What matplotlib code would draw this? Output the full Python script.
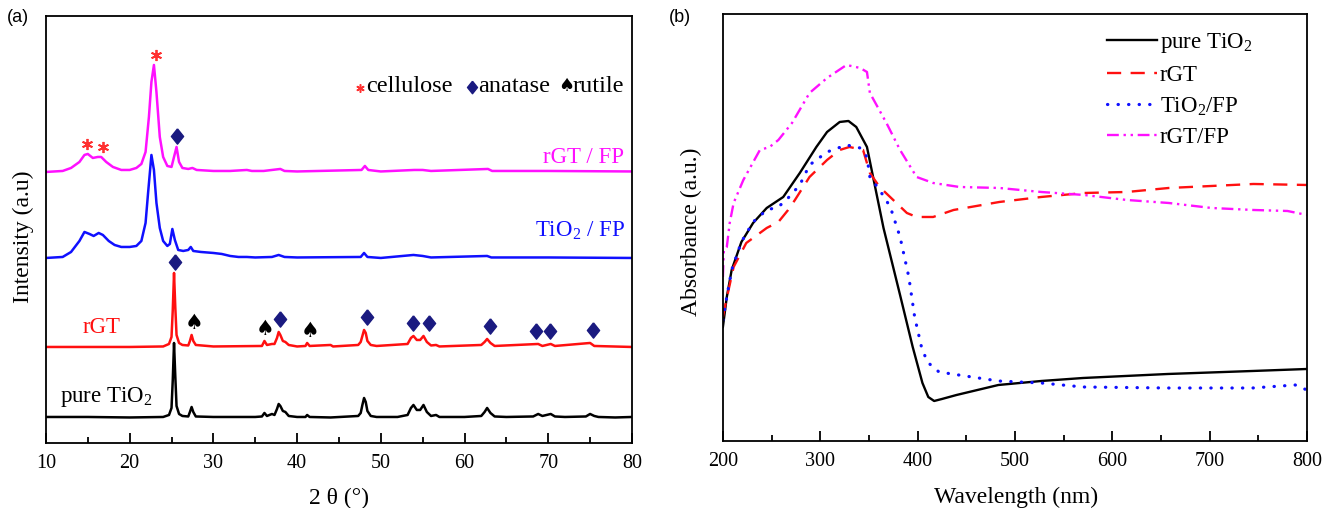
import matplotlib.pyplot as plt
import numpy as np
from matplotlib.path import Path

plt.rcParams['font.family'] = ['Liberation Serif', 'DejaVu Sans']
plt.rcParams['mathtext.fontset'] = 'custom'
plt.rcParams['mathtext.rm'] = 'Liberation Serif'
plt.rcParams['mathtext.it'] = 'Liberation Serif:italic'

# ---- XRD patterns: 2 theta (deg) and intensity above each pattern's baseline ----
tt_pure = [10, 12, 15, 20, 24, 24.7, 25.0, 25.15, 25.3, 25.45, 25.6, 25.9, 26.3, 27.0, 27.2, 27.4,
           27.6, 27.9, 30, 35, 35.8, 36.1, 36.4, 37.0, 37.3, 37.6, 37.8, 38.0, 38.3, 38.6, 39.0,
           40, 41.0, 41.2, 41.5, 44, 47.3, 47.6, 47.8, 48.0, 48.2, 48.4, 48.8, 49.5, 52, 53.2,
           53.6, 53.9, 54.3, 54.7, 55.1, 55.5, 56.0, 56.6, 57.0, 60, 62.0, 62.4, 62.7, 63.1,
           63.6, 65, 68.2, 68.8, 69.3, 70.3, 70.8, 72, 74.5, 75.0, 75.5, 76, 78, 80]
i_pure = [1, 1, 1, 0.5, 1, 3, 10, 38, 75, 42, 12, 4, 2, 1.5, 6, 11,
          6, 1.5, 1, 1, 1.5, 5, 2, 4, 3, 9, 14, 12, 7, 6, 2,
          1, 1, 3, 1, 0.5, 2, 5, 13, 20, 16, 7, 2, 1, 1, 3,
          10, 13, 8, 8, 13, 6, 2, 3, 1, 1, 2, 6, 10, 5,
          1.5, 1, 1.5, 4, 2, 4, 1.5, 1, 1.5, 4, 2, 1, 0.5, 1]

tt_rgt = [10, 20, 24, 24.7, 25.0, 25.15, 25.3, 25.45, 25.6, 25.9, 26.3, 27.0, 27.2, 27.4, 27.6,
          27.9, 30, 35.8, 36.1, 36.4, 37.0, 37.3, 37.6, 37.8, 38.0, 38.3, 38.6, 39.0, 40, 41.0,
          41.2, 41.5, 44.0, 44.3, 47.3, 47.6, 47.8, 48.0, 48.2, 48.4, 48.8, 49.5, 53.2, 53.6,
          53.9, 54.3, 54.7, 55.1, 55.5, 56.0, 56.6, 57.0, 62.0, 62.4, 62.7, 63.1, 63.6, 68.8,
          69.3, 70.3, 70.8, 75.0, 75.5, 80]
i_rgt = [0, 0, 0.5, 3, 10, 37, 74, 40, 12, 4, 2, 1.5, 6, 12, 6,
         2, 0.5, 1, 6, 2, 3, 3, 9, 15, 12, 6, 5, 2, 0.5, 1,
         4, 1, 2, 0.5, 2, 5, 11, 17, 14, 6, 2, 1, 3, 9,
         11, 7, 7, 11, 5, 1.5, 2, 0.5, 2, 5, 8, 4, 1, 3,
         1, 3, 1, 4, 1, 0]

tt_tio2fp = [10, 11, 12, 13, 14, 14.6, 15.2, 15.7, 16.3, 16.8, 17.5, 18.2, 19, 20, 20.8, 21.4,
             21.9, 22.2, 22.6, 22.9, 23.2, 23.6, 24.0, 24.5, 24.8, 25.1, 25.4, 25.8, 26.4, 27.0,
             27.3, 27.6, 28.5, 30, 31, 32, 33, 34, 35, 37.0, 37.8, 38.5, 40, 47.6, 48.0, 48.4, 50,
             53.9, 55.0, 56, 62.7, 63.2, 70, 80]
i_tio2fp = [0, 0.5, 1, 6, 17, 26, 24, 22, 25, 23, 17, 13, 11, 11, 12, 17,
            35, 65, 103, 88, 55, 30, 17, 12, 14, 29, 18, 8, 7, 8,
            11, 7, 6, 5, 4, 2, 1, 1, 0.5, 1, 3, 1, 0.5, 1, 5, 1, 0,
            3, 2, 0.5, 2, 0.5, 0.5, 0]

tt_rgtfp = [10, 11, 12, 13, 14, 14.6, 15.0, 15.6, 16.2, 16.6, 17.2, 18, 19, 20, 20.8, 21.4, 21.9,
            22.3, 22.6, 22.9, 23.2, 23.6, 24.0, 24.5, 25.0, 25.3, 25.6, 25.9, 26.3, 27.0, 27.5, 28,
            30, 32, 34, 34.6, 36, 38.0, 38.5, 40, 47.7, 48.1, 48.5, 50, 54, 55, 56, 62.8, 63.3,
            70, 80]
i_rgtfp = [0, 0.5, 1, 4, 10, 17, 18, 14, 15, 15, 10, 5, 2, 2, 4, 8, 20,
           55, 90, 107, 80, 35, 15, 6, 5, 15, 25, 10, 4, 3, 4, 2,
           1, 1, 2, 1, 1, 3, 1, 0.5, 2, 6, 2, 0.5, 2, 2, 1, 3, 1,
           1, 0.5]

# phase reflections marked on the patterns
anatase_rgt = [25.4, 38.0, 48.3, 53.9, 55.8, 63.0, 68.5, 70.2, 75.4]
rutile_rgt = [27.7, 36.2, 41.5]
cellulose_rgtfp = [14.9, 16.8, 23.1]
anatase_rgtfp = [25.7]

# ---- UV-vis absorbance spectra ----
wl_pure = [200, 204, 209, 219, 231, 245, 262, 279, 296, 307, 320, 329, 337, 348, 365, 382, 395,
           405, 411, 417, 425, 440, 483, 527, 570, 657, 744, 800]
abs_pure = [1.14, 1.44, 1.71, 1.99, 2.18, 2.33, 2.44, 2.68, 2.94, 3.09, 3.19, 3.20, 3.14, 2.94,
            2.13, 1.46, 0.94, 0.58, 0.44, 0.40, 0.42, 0.46, 0.56, 0.60, 0.63, 0.67, 0.70, 0.72]

wl_rgt = [200, 204, 211, 224, 245, 257, 267, 274, 289, 307, 320, 330, 344, 351, 361, 375, 389,
          399, 416, 437, 484, 527, 571, 615, 658, 702, 745, 800]
abs_rgt = [1.24, 1.43, 1.74, 1.98, 2.13, 2.19, 2.31, 2.41, 2.64, 2.81, 2.91, 2.94, 2.91, 2.68,
           2.54, 2.41, 2.28, 2.24, 2.24, 2.31, 2.39, 2.44, 2.48, 2.49, 2.53, 2.55, 2.57, 2.56]

wl_tio2fp = [200, 204, 209, 219, 231, 245, 257, 267, 279, 289, 307, 327, 341, 348, 351, 361, 372,
             382, 391, 397, 404, 410, 422, 449, 483, 527, 570, 657, 744, 788, 800]
abs_tio2fp = [1.21, 1.44, 1.71, 1.99, 2.19, 2.31, 2.34, 2.43, 2.56, 2.76, 2.89, 2.96, 2.93, 2.84,
              2.64, 2.51, 2.34, 2.04, 1.64, 1.24, 0.94, 0.79, 0.69, 0.65, 0.60, 0.58, 0.54, 0.53,
              0.53, 0.56, 0.51]

wl_rgtfp = [200, 201, 204, 207, 211, 221, 238, 248, 257, 271, 289, 307, 327, 341, 348, 351, 368,
            382, 399, 416, 443, 484, 527, 571, 615, 658, 702, 745, 780, 800]
abs_rgtfp = [1.64, 1.91, 1.94, 2.18, 2.38, 2.61, 2.91, 2.94, 3.01, 3.18, 3.48, 3.63, 3.76, 3.73,
             3.69, 3.48, 3.18, 2.91, 2.64, 2.58, 2.54, 2.53, 2.49, 2.46, 2.41, 2.38, 2.33, 2.31,
             2.30, 2.26]

navy = '#1a1a80'
diamond = Path([(0, 1), (0.8, 0), (0, -1), (-0.8, 0), (0, 1)])


def peak_top(tt, ii, pos, win=0.7):
    xs = np.linspace(pos - win, pos + win, 60)
    return np.interp(xs, tt, ii).max()


fig = plt.figure(figsize=(13.24, 5.08), dpi=100)
ax1 = fig.add_axes([0.0347, 0.128, 0.4426, 0.8406])
ax2 = fig.add_axes([0.546, 0.1319, 0.4411, 0.8406])

# ---------- (a) XRD ----------
off = {'pure': 25, 'rgt': 96, 'tio2fp': 185, 'rgtfp': 271}
ax1.plot(tt_pure, np.array(i_pure) + off['pure'], color='black', lw=1.8)
ax1.plot(tt_rgt, np.array(i_rgt) + off['rgt'], color='#ff1010', lw=1.8)
ax1.plot(tt_tio2fp, np.array(i_tio2fp) + off['tio2fp'], color='#1010ff', lw=1.8)
ax1.plot(tt_rgtfp, np.array(i_rgtfp) + off['rgtfp'], color='#ff10ff', lw=1.8)

for p in anatase_rgt:
    y = peak_top(tt_rgt, i_rgt, p) + off['rgt'] + 13
    ax1.plot(p, y, marker=diamond, ms=11, color=navy, ls='none')
for p in rutile_rgt:
    y = peak_top(tt_rgt, i_rgt, p) + off['rgt'] + 12
    ax1.text(p, y, '\u2660', family='DejaVu Sans', fontsize=15, color='black',
             ha='center', va='center')
for p in anatase_rgtfp:
    y = peak_top(tt_rgtfp, i_rgtfp, p) + off['rgtfp'] + 11
    ax1.plot(p, y, marker=diamond, ms=11, color=navy, ls='none')
for p in cellulose_rgtfp:
    y = peak_top(tt_rgtfp, i_rgtfp, p, win=0.4) + off['rgtfp'] + 10
    ax1.plot(p, y, marker=(6, 2, 0), ms=8, mew=1.3, color='#ff3030', ls='none')

# curve names
ax1.text(0.986, 0.656, 'rGT / FP', transform=ax1.transAxes, color='#ff10ff',
         fontsize=16.5, ha='right', va='baseline')
ax1.text(0.988, 0.482, 'TiO$_2$ / FP', transform=ax1.transAxes, color='#1010ff',
         fontsize=16.5, ha='right', va='baseline')
ax1.text(0.0625, 0.258, 'rGT', transform=ax1.transAxes, color='#ff1010',
         fontsize=16.5, ha='left', va='baseline')
ax1.text(0.0244, 0.097, 'pure TiO$_2$', transform=ax1.transAxes, color='black',
         fontsize=16.5, ha='left', va='baseline')

# symbol key
ax1.plot(0.536, 0.832, marker=(6, 2, 0), ms=6, mew=1.1, color='#ff3030',
         transform=ax1.transAxes, ls='none')
ax1.text(0.547, 0.822, 'cellulose', transform=ax1.transAxes, fontsize=17.5, va='baseline')
ax1.plot(0.7265, 0.834, marker=diamond, ms=9, color=navy, transform=ax1.transAxes, ls='none')
ax1.text(0.738, 0.822, 'anatase', transform=ax1.transAxes, fontsize=17.5, va='baseline')
ax1.text(0.8886, 0.836, '\u2660', transform=ax1.transAxes, family='DejaVu Sans',
         fontsize=13, ha='center', va='center')
ax1.text(0.8993, 0.822, 'rutile', transform=ax1.transAxes, fontsize=17.5, va='baseline')

ax1.set_xlim(10, 80)
ax1.set_ylim(0, 427)
ax1.set_xticks(np.arange(10, 81, 10))
ax1.set_xticks(np.arange(15, 80, 10), minor=True)
ax1.set_yticks([])
ax1.set_xlabel('2 \u03b8 (\u00b0)', fontsize=17, va='center')
ax1.xaxis.set_label_coords(0.5, -0.129)
ax1.set_ylabel('Intensity (a.u)', fontsize=17, va='center')
ax1.yaxis.set_label_coords(-0.039, 0.482)

# ---------- (b) UV-vis ----------
ax2.plot(wl_pure, abs_pure, color='black', lw=1.7, label='pure TiO$_2$')
ax2.plot(wl_rgt, abs_rgt, color='#ff1010', lw=1.7, ls=(0, (6, 4)), label='rGT')
ax2.plot(wl_tio2fp, abs_tio2fp, color='#1010ff', lw=2.3, ls=(0, (0.1, 3.2)),
         dash_capstyle='round', label='TiO$_2$/FP')
ax2.plot(wl_rgtfp, abs_rgtfp, color='#ff10ff', lw=1.7, ls=(0, (5, 2, 1, 2, 1, 2)),
         label='rGT/FP')
ax2.legend(loc='upper left', bbox_to_anchor=(0.657, 0.96), frameon=False, fontsize=16.5,
           handlelength=2.2, handletextpad=0.12, labelspacing=0.42, borderpad=0,
           borderaxespad=0)

ax2.set_xlim(200, 800)
ax2.set_ylim(0, 4.27)
ax2.set_xticks(np.arange(200, 801, 100))
ax2.set_xticks(np.arange(250, 800, 100), minor=True)
ax2.set_yticks([])
ax2.set_xlabel('Wavelength (nm)', fontsize=17, va='center')
ax2.xaxis.set_label_coords(0.502, -0.133)
ax2.set_ylabel('Absorbance (a.u.)', fontsize=17, va='center')
ax2.yaxis.set_label_coords(-0.053, 0.489)

for ax in (ax1, ax2):
    for s in ax.spines.values():
        s.set_linewidth(1.3)
    ax.tick_params(axis='x', which='major', direction='in', length=7, width=1.3,
                   labelsize=14.5, pad=8, top=False)
    ax.tick_params(axis='x', which='minor', direction='in', length=4, width=1.3, top=False)

fig.text(0.0136, 0.9646, '(a)', family='Liberation Sans', fontsize=13, ha='center', va='center')
fig.text(0.5136, 0.9646, '(b)', family='Liberation Sans', fontsize=13, ha='center', va='center')

fig.savefig('out.png', dpi=100)
